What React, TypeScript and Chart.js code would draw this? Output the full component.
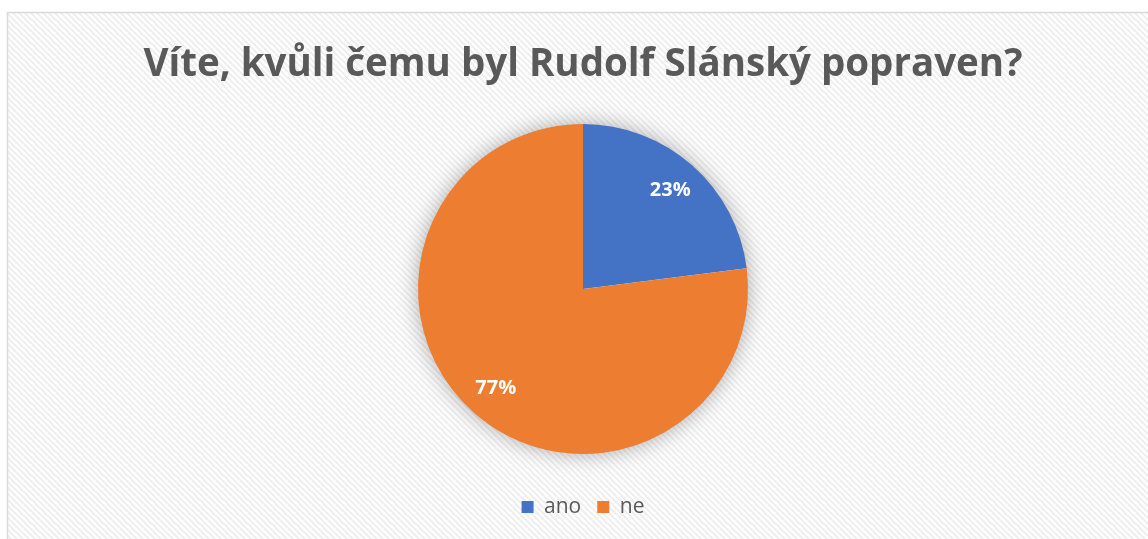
import React, { useEffect, useRef } from "react";
import { Chart, registerables } from "chart.js";

Chart.register(...registerables);

const titleText = "Víte, kvůli čemu byl Rudolf Slánský popraven?";
const categories = ["ano", "ne"];
const values = [23, 77];
const colors = ["#4472C4", "#ED7D31"];

function makePattern(ctx: CanvasRenderingContext2D) {
  const size = 6;
  const c = document.createElement("canvas");
  c.width = size;
  c.height = size;
  const p = c.getContext("2d")!;
  p.fillStyle = "#ffffff";
  p.fillRect(0, 0, size, size);
  p.strokeStyle = "#efefef";
  p.lineWidth = 2.2;
  for (const off of [-size, 0, size]) {
    p.beginPath();
    p.moveTo(off - 1, -1);
    p.lineTo(off + size + 1, size + 1);
    p.stroke();
  }
  return ctx.createPattern(c, "repeat")!;
}

const backgroundPlugin = {
  id: "bgPattern",
  beforeDraw(chart: any) {
    const ctx = chart.ctx as CanvasRenderingContext2D;
    ctx.save();
    ctx.fillStyle = "#ffffff";
    ctx.fillRect(0, 0, chart.width, chart.height);
    ctx.fillStyle = makePattern(ctx);
    ctx.fillRect(8, 13, chart.width, chart.height);
    ctx.strokeStyle = "#d9d9d9";
    ctx.lineWidth = 1.5;
    ctx.strokeRect(7.5, 12.5, chart.width + 10, chart.height + 10);
    ctx.restore();
  },
};

const shadowPlugin = {
  id: "pieShadow",
  beforeDatasetsDraw(chart: any) {
    const meta = chart.getDatasetMeta(0);
    const arc = meta.data[0];
    if (!arc) return;
    const ctx = chart.ctx as CanvasRenderingContext2D;
    ctx.save();
    ctx.shadowColor = "rgba(0,0,0,0.35)";
    ctx.shadowBlur = 22;
    ctx.fillStyle = "#ffffff";
    ctx.beginPath();
    ctx.arc(arc.x, arc.y, arc.outerRadius - 1, 0, Math.PI * 2);
    ctx.fill();
    ctx.restore();
  },
};

const labelPlugin = {
  id: "pctLabels",
  afterDatasetsDraw(chart: any) {
    const meta = chart.getDatasetMeta(0);
    const ctx = chart.ctx as CanvasRenderingContext2D;
    const data = chart.data.datasets[0].data as number[];
    const total = data.reduce((a, b) => a + b, 0);
    ctx.save();
    ctx.fillStyle = "#ffffff";
    ctx.font = "bold 20px 'Open Sans', sans-serif";
    ctx.textAlign = "center";
    ctx.textBaseline = "middle";
    meta.data.forEach((arc: any, i: number) => {
      const mid = (arc.startAngle + arc.endAngle) / 2;
      const r = arc.outerRadius * 0.8;
      const x = arc.x + Math.cos(mid) * r;
      const y = arc.y + Math.sin(mid) * r;
      ctx.fillText(Math.round((data[i] / total) * 100) + "%", x, y);
    });
    ctx.restore();
  },
};

export default function App() {
  const ref = useRef<HTMLCanvasElement | null>(null);

  useEffect(() => {
    document.body.style.margin = "0";
    const canvas = ref.current!;
    const chart = new Chart(canvas, {
      type: "pie",
      data: {
        labels: categories,
        datasets: [
          {
            data: values,
            backgroundColor: colors,
            borderWidth: 0,
            radius: 165,
          },
        ],
      },
      options: {
        responsive: false,
        animation: false,
        events: [],
        layout: { padding: { left: 18, right: 0, top: 0, bottom: 11.5 } },
        plugins: {
          title: {
            display: true,
            text: titleText,
            color: "#595959",
            font: { family: "'Open Sans', sans-serif", size: 38.5, weight: "bold", lineHeight: 1.2 },
            padding: { top: 41.9, bottom: 9.4 },
          },
          legend: {
            display: true,
            position: "bottom",
            labels: {
              color: "#595959",
              font: { family: "'Open Sans', sans-serif", size: 21 },
              boxWidth: 12,
              boxHeight: 12,
              padding: 16,
            },
          },
          tooltip: { enabled: false },
        },
      },
      plugins: [backgroundPlugin, shadowPlugin, labelPlugin],
    });
    return () => chart.destroy();
  }, []);

  return (
    <div style={{ position: "fixed", left: 0, top: 0, width: 1148, height: 539 }}>
      <canvas ref={ref} width={1148} height={539} style={{ display: "block" }} />
    </div>
  );
}
